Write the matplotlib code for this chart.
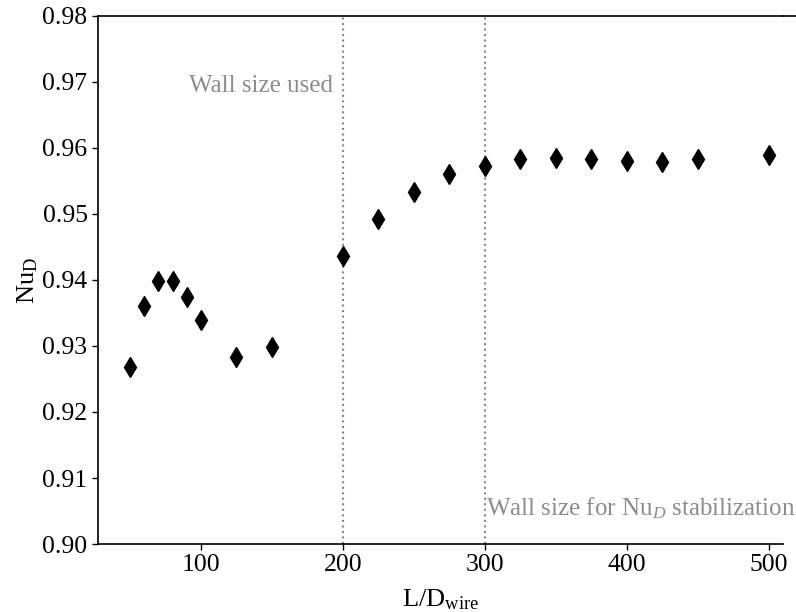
import matplotlib
matplotlib.use('Agg')
import matplotlib.pyplot as plt
from matplotlib.lines import Line2D

# wall size sweep results
l_over_d = [50, 60, 70, 80, 90, 100, 125, 150, 200, 225, 250, 275, 300,
            325, 350, 375, 400, 425, 450, 500]
nu_d = [0.9268, 0.9361, 0.9398, 0.9398, 0.9374, 0.9340, 0.9284, 0.9299,
        0.9436, 0.9492, 0.9534, 0.9560, 0.9573,
        0.9584, 0.9585, 0.9584, 0.9581, 0.9579, 0.9583, 0.9589]

wall_used = 200
wall_stable = 300

plt.rcParams['font.family'] = 'Liberation Serif'
plt.rcParams['mathtext.fontset'] = 'custom'
plt.rcParams['mathtext.rm'] = 'Liberation Serif'
plt.rcParams['mathtext.it'] = 'Liberation Serif:italic'
plt.rcParams['font.size'] = 18

fig = plt.figure(figsize=(7.96, 6.12), dpi=100)
ax = fig.add_axes([0.1231, 0.1111, 0.9837 - 0.1231, 0.9739 - 0.1111])

ax.axvline(wall_used, color='#888888', linestyle=':', linewidth=1.5, zorder=1)
ax.axvline(wall_stable, color='#888888', linestyle=':', linewidth=1.5, zorder=1)

ax.plot(l_over_d, nu_d, linestyle='none', marker='d', markersize=10,
        color='black', zorder=3)

ax.text(wall_used - 7, 0.9694, 'Wall size used', color='#8c8c8c',
        ha='right', va='center', fontsize=18)
ax.text(wall_stable + 1, 0.9054, 'Wall size for Nu$_D$ stabilization',
        color='#8c8c8c', ha='left', va='center', fontsize=18)

ax.set_xlim(27.5, 510)
ax.set_ylim(0.90, 0.98)
ax.set_xticks([100, 200, 300, 400, 500])
ax.set_yticks([0.90, 0.91, 0.92, 0.93, 0.94, 0.95, 0.96, 0.97, 0.98])
ax.set_yticklabels(['%.2f' % v for v in ax.get_yticks()])
ax.tick_params(direction='out', length=4, width=1, labelsize=18.5)

ax.set_xlabel(r'L/D$_\mathrm{wire}$', fontsize=19, labelpad=8)
ax.set_ylabel(r'Nu$_\mathrm{D}$', fontsize=19, labelpad=2)

ax.spines['right'].set_visible(False)
for s in ['top', 'bottom', 'left']:
    ax.spines[s].set_linewidth(1.2)

# top border runs on to the right edge
fig.add_artist(Line2D([0.9837, 1.0], [0.9739, 0.9739], color='black',
                      linewidth=1.2, transform=fig.transFigure))

fig.savefig('out.png', dpi=100)
